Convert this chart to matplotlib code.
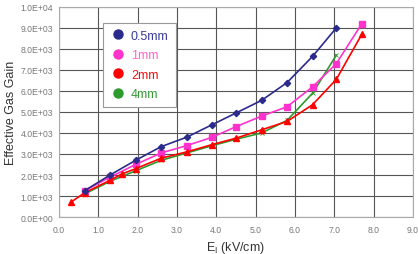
import matplotlib
matplotlib.use('Agg')
import matplotlib.pyplot as plt
from matplotlib.ticker import FuncFormatter, MultipleLocator
from matplotlib.lines import Line2D

plt.rcParams['font.family'] = ['Liberation Sans', 'DejaVu Sans']

# data (E field in kV/cm, gain)
x_05 = [0.65, 1.3, 1.95, 2.6, 3.25, 3.9, 4.5, 5.15, 5.8, 6.45, 7.05]
g_05 = [1250, 2000, 2700, 3350, 3800, 4400, 4950, 5550, 6400, 7650, 9000]

x_1 = [0.65, 1.3, 1.95, 2.6, 3.25, 3.9, 4.5, 5.15, 5.8, 6.45, 7.05, 7.7]
g_1 = [1250, 1900, 2500, 3050, 3400, 3800, 4300, 4800, 5250, 6200, 7300, 9200]

x_2 = [0.3, 0.65, 1.3, 1.6, 1.95, 2.6, 3.25, 3.9, 4.5, 5.15, 5.8, 6.45, 7.05, 7.7]
g_2 = [700, 1150, 1750, 2050, 2300, 2800, 3100, 3450, 3750, 4150, 4550, 5350, 6550, 8700]

x_4 = [0.65, 1.3, 1.95, 2.6, 3.25, 3.9, 4.5, 5.15, 5.8, 6.45, 7.05]
g_4 = [1100, 1700, 2200, 2700, 3050, 3400, 3700, 4000, 4600, 5900, 7700]

labels = ['0.5mm', '1mm', '2mm', '4mm']
colores = ['#2B2B8C', '#FF33CC', '#FF0000', '#2E9A2E']
colores_txt = ['#3A3A9A', '#FF66CC', '#EE1111', '#339933']

fig = plt.figure(figsize=(4.18, 2.55), dpi=100)
ax = fig.add_axes([0.141, 0.145, 0.847, 0.824])

ax.plot(x_05, g_05, color=colores[0], lw=1.2, marker='D', ms=3.2, zorder=5)
ax.plot(x_1, g_1, color=colores[1], lw=1.2, marker='s', ms=4.5, zorder=4)
ax.plot(x_4, g_4, color=colores[3], lw=1.2, marker='x', ms=2.5, mew=0.6, zorder=3)
ax.plot(x_2, g_2, color=colores[2], lw=1.2, marker='^', ms=5, zorder=4)

ax.set_xlim(0, 9)
ax.set_ylim(0, 10000)
ax.xaxis.set_major_locator(MultipleLocator(1.0))
ax.yaxis.set_major_locator(MultipleLocator(1000))
ax.xaxis.set_major_formatter(FuncFormatter(lambda v, p: f"{v:.1f}"))
ax.yaxis.set_major_formatter(FuncFormatter(lambda v, p: f"{v:.1E}"))
ax.tick_params(length=0, labelsize=6.2, labelcolor='#777777')
ax.tick_params(axis='y', pad=4)
ax.tick_params(axis='x', pad=6)
ax.grid(True, color='#555555', lw=0.8)
ax.set_axisbelow(True)
for s in ax.spines.values():
    s.set_color('#AAAAAA')
    s.set_linewidth(0.8)

ax.set_xlabel(r'E$_\mathregular{I}$ (kV/cm)', fontsize=9, color='#333333', labelpad=3)
ax.set_ylabel('Effective Gas Gain', fontsize=9, color='#333333')
ax.yaxis.set_label_coords(-0.118, 0.5)

handles = [Line2D([], [], ls='', marker='o', ms=6.5, color=c) for c in colores]
leg = ax.legend(handles, labels, loc='upper left', bbox_to_anchor=(0.124, 0.924),
                borderaxespad=0, fontsize=9, frameon=True, fancybox=False,
                handletextpad=0.4, borderpad=0.55, labelspacing=0.6, handlelength=1.3)
leg.get_frame().set_edgecolor('#999999')
leg.get_frame().set_linewidth(0.8)
leg.get_frame().set_alpha(1)
for t, c in zip(leg.get_texts(), colores_txt):
    t.set_color(c)

fig.savefig('out.png', dpi=100)
